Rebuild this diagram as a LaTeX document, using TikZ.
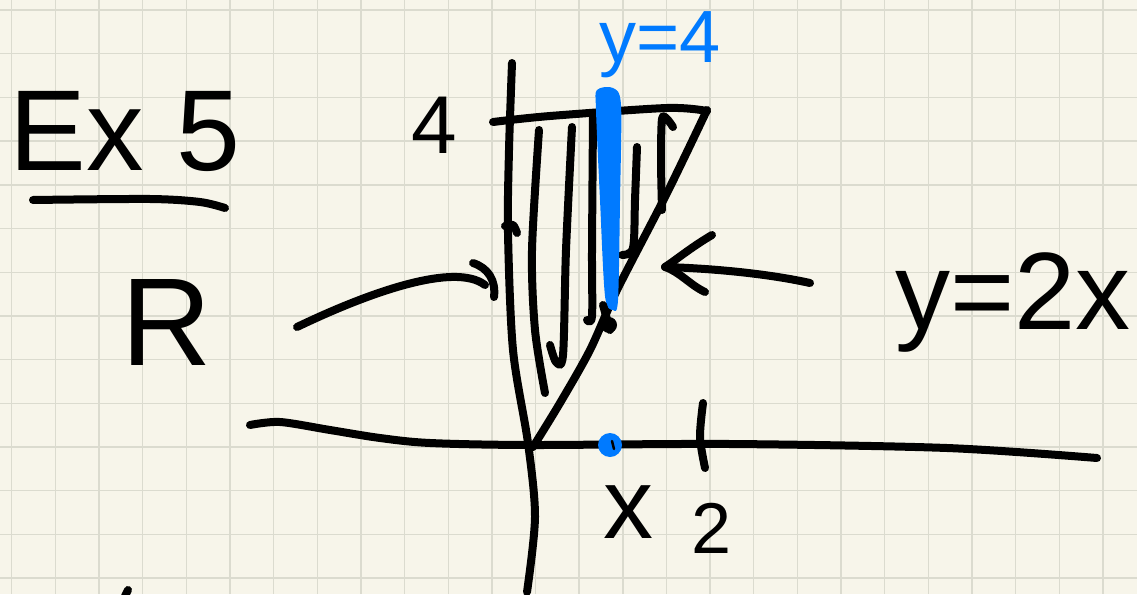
\documentclass[tikz,border=0pt]{standalone}
\usepackage{fontspec}
\setmainfont{Liberation Sans}
\usepackage{tikz}
\usetikzlibrary{arrows.meta,positioning,calc}
\definecolor{paper}{RGB}{247,245,234}
\definecolor{gridgray}{RGB}{219,219,207}
\definecolor{penblue}{RGB}{0,122,255}
\newcommand{\handsize}[1]{\fontsize{#1}{#1}\selectfont}

\begin{document}
\begin{tikzpicture}[x=1pt, y=-1pt, every node/.style={inner sep=0pt, align=center},
  ink/.style={line width=8pt, line cap=round, line join=round},
  gridline/.style={gridgray, line width=1.4pt}]
  \useasboundingbox (0,0) rectangle (1137,594);
  \fill[paper] (0,0) rectangle (1137,594);
  \foreach \k in {0,...,25} \draw[gridline] ({11.7+43.65*\k},0) -- ({11.7+43.65*\k},594);
  \foreach \k in {0,...,13} \draw[gridline] (0,{10+43.7*\k}) -- (1137,{10+43.7*\k});

  \node (ex) at (125,132) {\handsize{115}Ex 5};
  \node (rlabel) at (167,322) {\handsize{125}R};
  \node (four) at (434,125) {\handsize{82}4};
  \node (xlabel) at (628,512) {\handsize{100}x};
  \node (two) at (712,528) {\handsize{72}2};
  \node (vline) [penblue] at (660,45) {\handsize{74}y=4};
  \node (curve) at (1013,303) {\handsize{110}y=2x};

  \draw[ink] plot[smooth] coordinates {(33,200) (150,199) (200,202) (225,208)};

  % axes
  \draw[ink] plot[smooth] coordinates {(512,63) (509,150) (508,233) (513,350) (528,443) (535,517) (527,592)};
  \draw[ink] plot[smooth] coordinates {(250,425) (280,422) (330,430) (380,438) (430,443) (530,445) (730,444) (947,448) (1097,458)};
  \draw[ink] plot[smooth] coordinates {(703,403) (700,437) (705,468)};
  \draw[ink] (125,596) -- (128,590);

  % region R
  \draw[ink] plot[smooth] coordinates {(493,122) (550,116) (667,108) (707,111)};
  \draw[ink] plot[smooth] coordinates {(707,110) (667,193) (617,290) (590,350) (560,403) (533,447)};
  \draw[ink] plot[smooth] coordinates {(539,130) (532,250) (535,330) (545,393)};
  \draw[ink] plot[smooth] coordinates {(572,127) (566,250) (563,355) (556,362) (550,345)};
  \draw[ink] plot[smooth] coordinates {(593,117) (592,250) (592,316) (587,320)};
  \draw[ink] plot[smooth] coordinates {(637,147) (635,200) (633,248) (622,255)};
  \draw[ink] plot[smooth] coordinates {(673,127) (667,119) (662,119) (661,160) (662,210)};
  \draw[ink] plot[smooth] coordinates {(505,226) (513,225) (517,233)};
  \fill[penblue] plot[smooth cycle] coordinates {(597,90) (613,88) (621,105) (620,200) (618,300) (613,310) (605,296) (600,200) (596,110)};
  \fill (609,325) circle (8pt);
  \draw[ink] (603,305) -- (610,330);

  % point x on the axis
  \fill[penblue] (610,445) circle (12pt);
  \draw[line width=2.5pt, line cap=round] (612,441) -- (614,449);

  % arrows
  \coordinate (rtail) at (297,327);
  \coordinate (rtip) at (485,285);
  \draw[ink] (rtail) .. controls (370,292) and (455,262) .. (rtip);
  \draw[ink] (473,263) .. controls (488,268) and (496,280) .. (494,297);
  \coordinate (ctail) at (810,283);
  \coordinate (ctip) at (665,267);
  \draw[ink] (ctail) .. controls (760,272) and (700,268) .. (ctip);
  \draw[ink] (712,235) .. controls (690,248) and (676,260) .. (ctip) .. controls (680,272) and (690,285) .. (705,292);
\end{tikzpicture}
\end{document}
